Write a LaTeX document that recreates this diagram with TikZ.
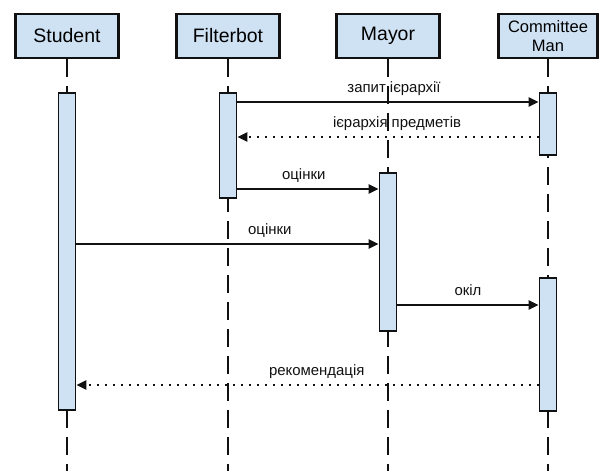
\documentclass[tikz,border=0pt]{standalone}
\usepackage{fontspec}
\setmainfont{Liberation Sans}
\usepackage{xcolor}
\usetikzlibrary{arrows.meta}
\definecolor{SDFill}{HTML}{CFE2F3}
\definecolor{SDLine}{HTML}{111111}
\def\px{0.75pt}

\begin{document}
\begin{tikzpicture}[x=0.75pt,y=-0.75pt,
  head/.style={draw=SDLine,line width=1.7pt,fill=SDFill,minimum width=103*\px,minimum height=44*\px,inner sep=0pt,align=center,font=\fontsize{14.6}{17}\selectfont},
  act/.style={draw=SDLine,line width=1.4pt,fill=SDFill,minimum width=17*\px,inner sep=0pt},
  life/.style={SDLine,line width=1.4pt,dash pattern=on 13.5pt off 6.75pt},
  msg/.style={SDLine,line width=1.3pt,-{Triangle[length=7.5pt,width=7pt]}},
  ret/.style={msg,dash pattern=on 1.5pt off 4.5pt},
  lbl/.style={font=\fontsize{11.2}{13}\selectfont,anchor=base,yshift=7.5pt,inner sep=0pt}]
\path[use as bounding box] (0,0) rectangle (603,471);
\node[head] (student) at (67,36) {Student};
\node[head] (filterbot) at (228,36) {Filterbot};
\node[head] (mayor) at (388,36) {Mayor};
\node[head,minimum width=99*\px,font=\fontsize{12.4}{14}\selectfont] (committee) at (548,36) {Committee\\Man};
\foreach \n in {student,filterbot,mayor,committee}
  \draw[life] (\n.south) -- (\n.south |- 0,471);
\node[act,minimum height=317*\px] (studentAct) at (67,251.5) {};
\node[act,minimum height=105*\px] (filterbotAct) at (228,145.5) {};
\node[act,minimum height=62*\px] (committeeActA) at (548,124) {};
\node[act,minimum height=158*\px] (mayorAct) at (388,252) {};
\node[act,minimum height=133*\px] (committeeActB) at (548,344.5) {};
\draw[msg] (filterbotAct.east |- 0,102) -- node[lbl,pos=0.52] {запит ієрархії} (committeeActA.west |- 0,102);
\draw[ret] (committeeActA.west |- 0,137) -- node[lbl,pos=0.47] {ієрархія предметів} (filterbotAct.east |- 0,137);
\draw[msg] (filterbotAct.east |- 0,189) -- node[lbl,pos=0.47] {оцінки} (mayorAct.west |- 0,189);
\draw[msg] (studentAct.east |- 0,244) -- node[lbl,pos=0.64] {оцінки} (mayorAct.west |- 0,244);
\draw[msg] (mayorAct.east |- 0,305) -- node[lbl,pos=0.5] {окіл} (committeeActB.west |- 0,305);
\draw[ret] (committeeActB.west |- 0,385) -- node[lbl,pos=0.48] {рекомендація} (studentAct.east |- 0,385);
\end{tikzpicture}
\end{document}
